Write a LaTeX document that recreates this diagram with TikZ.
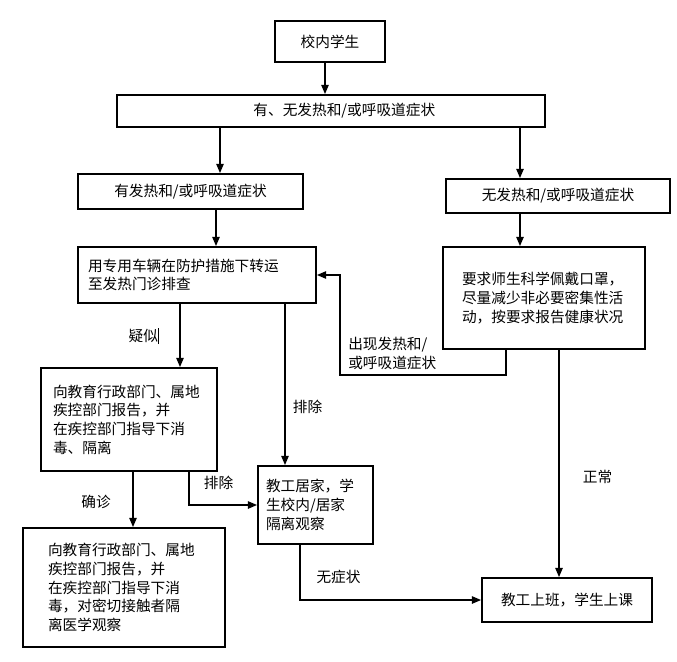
\documentclass[tikz,border=0pt]{standalone}
\usepackage{fontspec}
\newfontfamily\cjk{Noto Sans CJK SC}
\usetikzlibrary{arrows.meta}
\newlength\pxu
\setlength\pxu{0.75pt}
\begin{document}
\begin{tikzpicture}[x=0.75pt,y=-0.75pt,
    box/.style={draw=black,line width=1.3pt,font=\cjk\fontsize{11}{14}\selectfont},
    para/.style 2 args={box,align=left,inner xsep=#1\pxu,text width=#2\pxu},
    lbl/.style={font=\cjk\fontsize{11}{14}\selectfont,align=left},
    arr/.style={line width=1.3pt,-{Triangle[length=7pt,width=5.5pt]}}]
    \tikzstyle{every node}+=[inner sep=0pt]
    \useasboundingbox (0,0) rectangle (677,661);
    \node [box,minimum width=110\pxu,minimum height=41\pxu] (pupil) at (330,41.5) {校内学生};
    \node [box,minimum width=428\pxu,minimum height=32\pxu] (check) at (331,111) {\hspace*{20pt}有、无发热和/或呼吸道症状};
    \node [box,minimum width=225\pxu,minimum height=35\pxu] (fever) at (190.5,191.5) {有发热和/或呼吸道症状};
    \node [box,minimum width=224\pxu,minimum height=34\pxu] (nofever) at (558,196) {无发热和/或呼吸道症状};
    \node [para={10}{218},minimum height=56\pxu] (transfer) at (197,275) {用专用车辆在防护措施下转运\\至发热门诊排查};
    \node [para={19}{164},minimum height=102\pxu] (mask) at (544,298) {要求师生科学佩戴口罩，\\尽量减少非必要密集性活\\动，按要求报告健康状况};
    \node [para={12}{152},minimum height=103\pxu] (report) at (129,419.5) {向教育行政部门、属地\\疾控部门报告，并\\在疾控部门指导下消\\毒、隔离};
    \node [para={8}{99},minimum height=78\pxu] (home) at (315.5,505) {教工居家，学\\生校内/居家\\隔离观察};
    \node [para={25}{152},minimum height=119\pxu] (isolate) at (124,587.5) {向教育行政部门、属地\\疾控部门报告，并\\在疾控部门指导下消\\毒，对密切接触者隔\\离医学观察};
    \node [box,minimum width=170\pxu,minimum height=44\pxu] (resume) at (567,600) {教工上班，学生上课};
    \coordinate (bend) at (340,375);
    \draw [arr] ([xshift=-5\pxu]pupil.south) -- ([xshift=-5\pxu]pupil.south |- check.north);
    \draw [arr] ([xshift=29.5\pxu]fever.north |- check.south) -- ([xshift=29.5\pxu]fever.north);
    \draw [arr] ([xshift=-38\pxu]nofever.north |- check.south) -- ([xshift=-38\pxu]nofever.north);
    \draw [arr] ([xshift=19\pxu]transfer.north |- fever.south) -- ([xshift=19\pxu]transfer.north);
    \draw [arr] ([xshift=-24\pxu]mask.north |- nofever.south) -- ([xshift=-24\pxu]mask.north);
    \draw [arr] ([xshift=-38\pxu]mask.south) |- (bend) |- (transfer.east);
    \draw [arr] ([xshift=-17\pxu]transfer.south) -- ([xshift=-17\pxu]transfer.south |- report.north);
    \draw [arr] ([xshift=-30.5\pxu]home.north |- transfer.south) -- ([xshift=-30.5\pxu]home.north);
    \draw [arr] ([xshift=60\pxu]report.south) |- (home.west);
    \draw [arr] ([xshift=4\pxu]report.south) -- ([xshift=4\pxu]report.south |- isolate.north);
    \draw [arr] ([xshift=-15.5\pxu]home.south) |- (resume.west);
    \draw [arr] ([xshift=-8\pxu]resume.north |- mask.south) -- ([xshift=-8\pxu]resume.north);
    \node [lbl] (lblsusp) at (144,336) {疑似\rule[-2pt]{1pt}{12pt}};
    \node [lbl] (lblexcl) at (307.5,407) {排除};
    \node [lbl] (lblexclb) at (218.5,483) {排除};
    \node [lbl] (lblconf) at (96,502) {确诊};
    \node [lbl] (lblnosym) at (338.5,577) {无症状};
    \node [lbl] (lblnormal) at (597.5,477) {正常};
    \node [lbl,anchor=west] (lblback) at (348,353.5) {出现发热和/\\或呼吸道症状};
\end{tikzpicture}
\end{document}
